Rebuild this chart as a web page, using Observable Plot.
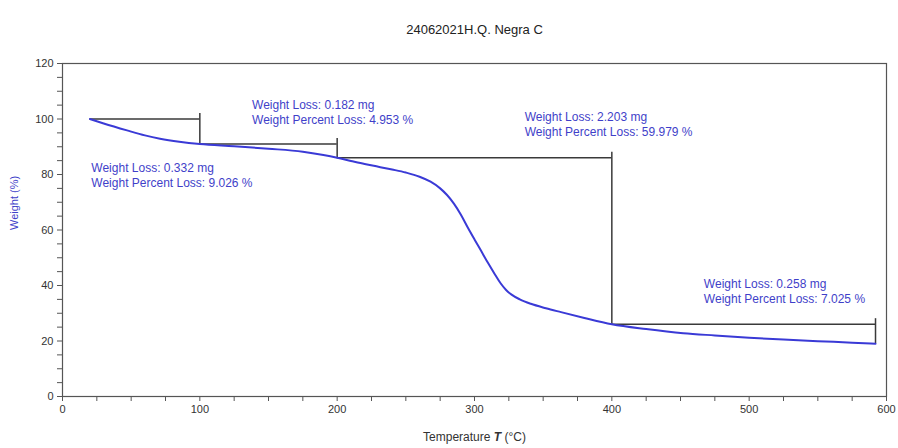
<!DOCTYPE html>
<html>
<head>
<meta charset="utf-8">
<script src="https://cdn.jsdelivr.net/npm/d3@7"></script>
<script src="https://cdn.jsdelivr.net/npm/@observablehq/plot@0.6"></script>
<style>
  body { margin: 0; background: #fff; }
  #chart svg { display: block; }
</style>
</head>
<body>
<div id="chart"></div>
<script>
// TGA curve: temperature (°C) and weight (%)
const temperature = [20, 30, 47, 60, 71, 85, 100, 125, 150, 175, 190, 200, 210, 220, 230, 240, 250, 260, 268, 275, 280, 285, 290, 295, 300, 305, 310, 315, 319, 323, 327, 333, 341, 352, 363, 380, 400, 425, 452, 475, 500, 525, 550, 575, 592];
const weight      = [100, 98.4, 95.9, 94.1, 92.9, 91.8, 90.97, 90.2, 89.3, 88.2, 87.0, 86.02, 84.9, 83.8, 82.8, 81.8, 80.7, 79.2, 77.4, 75.0, 72.6, 69.5, 65.6, 61.0, 56.6, 52.3, 48.0, 43.9, 40.8, 38.4, 36.7, 35.0, 33.4, 31.8, 30.4, 28.3, 26.04, 24.3, 22.8, 22.0, 21.2, 20.5, 19.95, 19.4, 19.02];

// Weight-loss steps
const stepStartT = [20, 100, 200, 400];
const stepEndT   = [100, 200, 400, 592];
const stepStartW = [100, 90.974, 86.021, 26.042];
const stepEndW   = [90.974, 86.021, 26.042, 19.017];
const lossMg      = ["0.332", "0.182", "2.203", "0.258"];
const lossPercent = ["9.026", "4.953", "59.979", "7.025"];
// label anchors in data units (temperature, weight)
const labelT = [21, 138, 336.5, 467];
const labelW = [80.0, 102.8, 98.4, 38.2];

const title = "24062021H.Q. Negra C";
const xLabel = "Temperature T (°C)";
const yLabel = "Weight (%)";
const xTicks = d3.range(0, 601, 25);
const yTicks = d3.range(0, 121, 5);

const curve = temperature.map((t, i) => ({t, w: weight[i]}));
const steps = stepStartT.map((s, i) => ({
  s, e: stepEndT[i], sw: stepStartW[i], ew: stepEndW[i],
  label: `Weight Loss: ${lossMg[i]} mg\nWeight Percent Loss: ${lossPercent[i]} %`,
  lt: labelT[i], lw: labelW[i]
}));

const blue = "#3a3ad6";
const textBlue = "#3f3fc9";
const lineGray = "#3a3a3a";

const plot = Plot.plot({
  width: 898,
  height: 448,
  marginLeft: 62,
  marginRight: 12,
  marginTop: 63,
  marginBottom: 52,
  style: {fontFamily: "Liberation Sans, Arial, sans-serif", background: "white", color: "#333"},
  x: {domain: [0, 600]},
  y: {domain: [0, 120]},
  marks: [
    Plot.frame({stroke: "#555", strokeWidth: 1.2}),
    Plot.axisX({ticks: xTicks, tickFormat: d => d % 100 === 0 ? d : "", tickSize: 5, tickPadding: 4, fontSize: 11, label: null, stroke: "#555", fill: "#333"}),
    Plot.axisY({ticks: yTicks, tickFormat: d => d % 20 === 0 ? d : "", tickSize: 5, tickPadding: 4, fontSize: 11, label: null, stroke: "#555", fill: "#333"}),
    // step brackets
    Plot.ruleY(steps, {x1: "s", x2: "e", y: "sw", stroke: lineGray, strokeWidth: 1.5}),
    Plot.ruleX(steps, {x: "e", y1: d => d.sw + 2, y2: "ew", stroke: lineGray, strokeWidth: 1.5}),
    Plot.line(curve, {x: "t", y: "w", stroke: blue, strokeWidth: 2, curve: "monotone-x"}),
    Plot.text(steps, {x: "lt", y: "lw", text: "label", textAnchor: "start", lineAnchor: "middle", lineHeight: 1.25, fontSize: 12, fill: textBlue}),
    Plot.text([title], {frameAnchor: "top", dy: -39, fontSize: 13, fill: "#222"}),
    Plot.text([xLabel], {frameAnchor: "bottom", dy: 44, fontSize: 12, fill: "#333"}),
    Plot.text([yLabel], {frameAnchor: "left", dx: -48, rotate: -90, fontSize: 11, fill: textBlue})
  ]
});

document.getElementById("chart").append(plot);

// italicize the T in the x-axis label
d3.select(plot).selectAll("text").filter(function() { return this.textContent === xLabel; }).each(function() {
  const t = d3.select(this);
  t.text(null);
  t.append("tspan").text("Temperature ");
  t.append("tspan").attr("font-style", "italic").attr("font-weight", "bold").text("T");
  t.append("tspan").text(" (°C)");
});
</script>
</body>
</html>
